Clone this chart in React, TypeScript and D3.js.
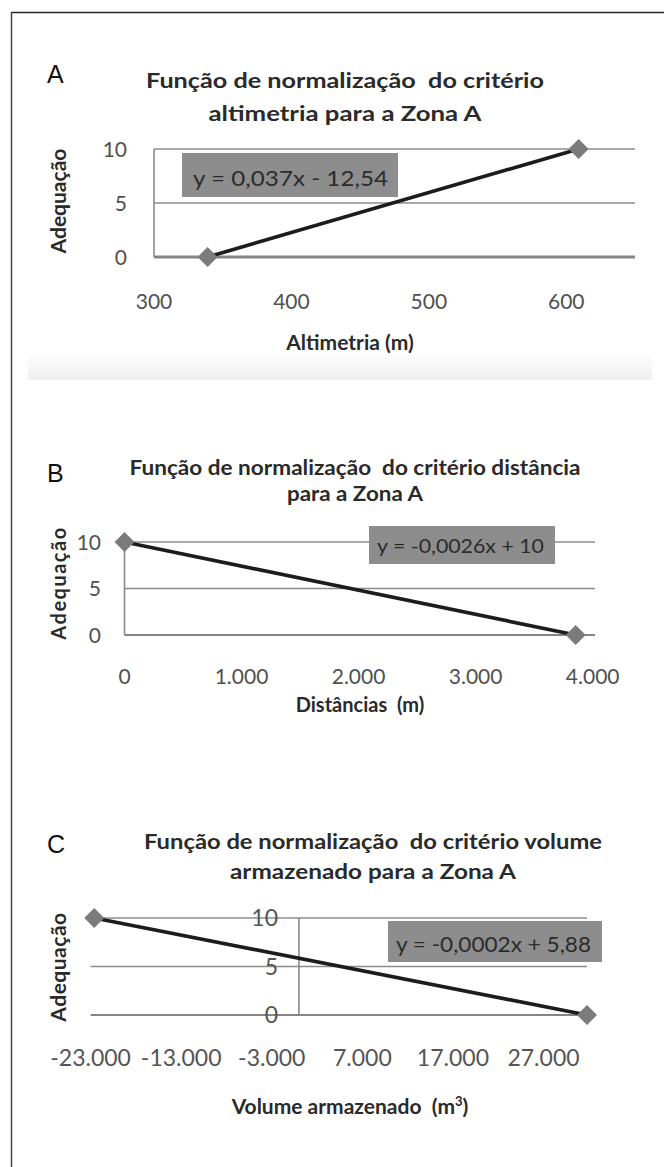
import React from 'react';
import * as d3 from 'd3';

// ---------- data ----------
const yTicks = [0, 5, 10];

const altimetriaX = [339, 609];
const altimetriaY = [0, 10];
const altimetriaTicks = [300, 400, 500, 600];

const distanciaX = [0, 3855];
const distanciaY = [10, 0];
const distanciaTicks = [0, 1000, 2000, 3000, 4000];

const volumeX = [-22600, 31800];
const volumeY = [10, 0];
const volumeTicks = [-23000, -13000, -3000, 7000, 17000, 27000];

const ptLocale = d3.formatLocale({
  decimal: ',',
  thousands: '.',
  grouping: [3],
  currency: ['', ''],
  minus: '-',
});
const fmtThousands = ptLocale.format(',d');
const fmtPlain = (v: number) => String(v);

const FONT = 'Lato, "Open Sans", sans-serif';
const PRE = { whiteSpace: 'pre' as const };

type PanelProps = {
  letter: string;
  letterY: number;
  titleLines: string[];
  titleX: number;
  titleYs: number[];
  titleWidths: number[];
  titleSize: number;
  xs: number[];
  ys: number[];
  xDomain: [number, number];
  xRange: [number, number];
  yRange: [number, number];
  xTicks: number[];
  xFmt: (v: number) => string;
  xTickY: number;
  tickSize: number;
  tickColor: string;
  yTickX: number;
  yAxisValue: number;
  axisWidth: number;
  xTitle: React.ReactNode;
  xTitleX: number;
  xTitleY: number;
  yTitleX: number;
  yTitleY: number;
  yTitleSpacing: number;
  equation: string;
  eqBox: [number, number, number, number];
  eqTextX: number;
  eqTextY: number;
  eqSize: number;
  eqWidth: number;
};

function Panel(p: PanelProps) {
  const x = d3.scaleLinear().domain(p.xDomain).range(p.xRange);
  const y = d3.scaleLinear().domain([0, 10]).range(p.yRange);
  const line = d3
    .line<number>()
    .x((_, i) => x(p.xs[i]))
    .y((d) => y(d));
  const diamond = d3.symbol().type(d3.symbolSquare).size(200)();
  const [x0, x1] = p.xRange;
  return (
    <g>
      <text x={47} y={p.letterY} fontFamily='"Liberation Sans", Arial, sans-serif' fontSize={25} fill="#111">
        {p.letter}
      </text>
      {p.titleLines.map((t, i) => (
        <text
          key={i}
          x={p.titleX}
          y={p.titleYs[i]}
          textAnchor="middle"
          fontFamily={FONT}
          fontWeight={700}
          fontSize={p.titleSize}
          fill="#2a2a2a"
          textLength={p.titleWidths[i]}
          lengthAdjust="spacingAndGlyphs"
          style={PRE}
        >
          {t}
        </text>
      ))}
      {/* gridlines */}
      {yTicks
        .filter((t) => t !== 0)
        .map((t) => (
          <line key={t} x1={x0} x2={x1} y1={y(t)} y2={y(t)} stroke="#8c8c8c" strokeWidth={1.6} />
        ))}
      {/* vertical axis */}
      <line
        x1={x(p.yAxisValue)}
        x2={x(p.yAxisValue)}
        y1={y(10)}
        y2={y(0)}
        stroke="#8a8a8a"
        strokeWidth={1.6}
      />
      {/* x axis at 0 */}
      <line x1={x0} x2={x1} y1={y(0)} y2={y(0)} stroke="#858585" strokeWidth={p.axisWidth} />
      {/* y tick labels */}
      {yTicks.map((t) => (
        <text
          key={t}
          x={p.yTickX}
          y={y(t)}
          dy="0.36em"
          textAnchor="end"
          fontFamily={FONT}
          fontSize={p.tickSize}
          fill={p.tickColor}
        >
          {t}
        </text>
      ))}
      {/* x tick labels */}
      {p.xTicks.map((t) => (
        <text
          key={t}
          x={x(t)}
          y={p.xTickY}
          textAnchor="middle"
          fontFamily={FONT}
          fontSize={p.tickSize}
          fill={p.tickColor}
        >
          {p.xFmt(t)}
        </text>
      ))}
      {/* axis titles */}
      <text
        x={p.xTitleX}
        y={p.xTitleY}
        textAnchor="middle"
        fontFamily={FONT}
        fontWeight={700}
        fontSize={p.titleSize}
        fill="#2a2a2a"
        style={PRE}
      >
        {p.xTitle}
      </text>
      <text
        transform={`translate(${p.yTitleX},${p.yTitleY}) rotate(-90)`}
        textAnchor="middle"
        dy="0.35em"
        fontFamily={FONT}
        fontWeight={700}
        fontSize={p.titleSize}
        letterSpacing={p.yTitleSpacing}
        fill="#2a2a2a"
      >
        Adequação
      </text>
      {/* equation box */}
      <rect x={p.eqBox[0]} y={p.eqBox[1]} width={p.eqBox[2]} height={p.eqBox[3]} fill="#8d8d8d" />
      <text
        x={p.eqTextX}
        y={p.eqTextY}
        fontFamily={FONT}
        fontSize={p.eqSize}
        fill="#2b2b2b"
        textLength={p.eqWidth}
        lengthAdjust="spacingAndGlyphs"
      >
        {p.equation}
      </text>
      {/* series */}
      <path d={line(p.ys) || ''} fill="none" stroke="#1c1c1c" strokeWidth={3.6} />
      {p.ys.map((v, i) => (
        <path
          key={i}
          d={diamond || ''}
          transform={`translate(${x(p.xs[i])},${y(v)}) rotate(45)`}
          fill="#7b7b7b"
        />
      ))}
    </g>
  );
}

export default function App() {
  return (
    <svg
      width={664}
      height={1167}
      style={{ position: 'absolute', left: 0, top: 0, background: '#fff' }}
    >
      <defs>
        <linearGradient id="shadeA" x1="0" x2="0" y1="0" y2="1">
          <stop offset="0" stopColor="#ffffff" />
          <stop offset="1" stopColor="#efefef" />
        </linearGradient>
      </defs>
      <rect x={0} y={0} width={664} height={1167} fill="#fff" />
      <rect x={28} y={350} width={624} height={30} fill="url(#shadeA)" />
      {/* frame */}
      <line x1={11.5} x2={664} y1={12.5} y2={12.5} stroke="#2a2a2a" strokeWidth={1.5} />
      <line x1={11.5} x2={11.5} y1={12} y2={1167} stroke="#444" strokeWidth={1.5} />

      <Panel
        letter="A"
        letterY={83}
        titleLines={['Função de normalização  do critério', 'altimetria para a Zona A']}
        titleX={345}
        titleYs={[88, 121]}
        titleWidths={[398, 273]}
        titleSize={21}
        xs={altimetriaX}
        ys={altimetriaY}
        xDomain={[300, 650]}
        xRange={[154, 635]}
        yRange={[257, 149]}
        xTicks={altimetriaTicks}
        xFmt={fmtPlain}
        xTickY={309}
        tickSize={21}
        tickColor="#505050"
        yTickX={127}
        yAxisValue={300}
        axisWidth={3.2}
        xTitle="Altimetria (m)"
        xTitleX={350}
        xTitleY={350}
        yTitleX={59}
        yTitleY={201}
        yTitleSpacing={0}
        equation="y = 0,037x - 12,54"
        eqBox={[182, 153, 216, 44]}
        eqTextX={193}
        eqTextY={186}
        eqSize={22}
        eqWidth={195}
      />

      <Panel
        letter="B"
        letterY={482}
        titleLines={['Função de normalização  do critério distância', 'para a Zona A']}
        titleX={355}
        titleYs={[475, 501]}
        titleWidths={[451, 136]}
        titleSize={20}
        xs={distanciaX}
        ys={distanciaY}
        xDomain={[0, 4020]}
        xRange={[124.5, 595]}
        yRange={[635, 542]}
        xTicks={distanciaTicks}
        xFmt={fmtThousands}
        xTickY={684}
        tickSize={21}
        tickColor="#505050"
        yTickX={101}
        yAxisValue={0}
        axisWidth={2.2}
        xTitle="Distâncias  (m)"
        xTitleX={360}
        xTitleY={712}
        yTitleX={59}
        yTitleY={583}
        yTitleSpacing={1.5}
        equation="y = -0,0026x + 10"
        eqBox={[369, 526, 186, 38]}
        eqTextX={377}
        eqTextY={553}
        eqSize={20}
        eqWidth={167}
      />

      <Panel
        letter="C"
        letterY={853}
        titleLines={['Função de normalização  do critério volume', 'armazenado para a Zona A']}
        titleX={373}
        titleYs={[849, 879]}
        titleWidths={[458, 286]}
        titleSize={21}
        xs={volumeX}
        ys={volumeY}
        xDomain={[-23000, 31800]}
        xRange={[90.6, 587]}
        yRange={[1015, 918]}
        xTicks={volumeTicks}
        xFmt={fmtThousands}
        xTickY={1066}
        tickSize={23}
        tickColor="#555"
        yTickX={278}
        yAxisValue={0}
        axisWidth={2.2}
        xTitle={
          <>
            {'Volume armazenado  (m'}
            <tspan fontSize={13} dy={-8}>3</tspan>
            <tspan dy={8}>)</tspan>
          </>
        }
        xTitleX={350}
        xTitleY={1114}
        yTitleX={59}
        yTitleY={967}
        yTitleSpacing={0.5}
        equation="y = -0,0002x + 5,88"
        eqBox={[388, 921, 214, 41]}
        eqTextX={396}
        eqTextY={952}
        eqSize={22}
        eqWidth={195}
      />
    </svg>
  );
}
